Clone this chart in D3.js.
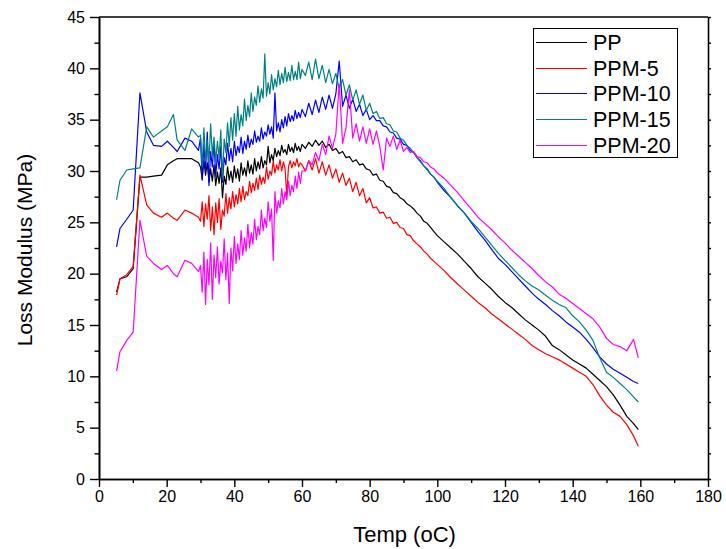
<!DOCTYPE html>
<html><head><meta charset="utf-8">
<script src="https://cdn.jsdelivr.net/npm/d3@7"></script>
<style>
html,body{margin:0;padding:0;background:#fff;}
svg{display:block;font-family:"Liberation Sans",Arial,sans-serif;}
</style></head>
<body><svg id="c" width="726" height="549"></svg>
<script>
const temps = [5.2,6.2,8.2,10.1,12.1,14.1,16.1,18.5,20.2,22.0,23.1,25.4,27.4,29.4,
30,30.5,31,31.5,32,32.5,33,33.5,34,34.5,35,35.5,36,36.5,37,37.5,38,38.5,39,39.5,
40,40.5,41,41.5,42,42.5,43,43.5,44,44.5,45,45.5,46,46.5,47,47.5,48,48.5,49,49.5,
50,50.5,51,51.5,52,52.5,53,53.5,54,54.5,55,55.5,56,56.5,57,57.5,58,58.5,59,59.5,60,
61,62,63,64,65,66,67,68,69,70,71,72,73,74,75,76,77,78,79,80,
81,82,83,84,85,86,87,88,89,90,91,92,93,94,95,96,97,98,99,100,
102,104,106,108,110,112,114,116,118,120,122,124,126,128,130,132,134,136,138,140,
142,144,146,148,150,152,154,156,158,159.4];

const pp = [18.2,19.5,19.7,20.5,29.4,29.4,29.5,29.6,30.6,31.0,31.2,31.2,31.2,30.8,
30.4,29.2,31.0,29.6,30.8,28.9,30.2,29.0,30.6,28.6,
29.9,28.8,30.3,27.4,29.5,28.7,30.4,29.1,30.0,28.9,
30.5,29.3,30.2,29.0,30.8,29.6,30.3,29.5,31.0,29.8,
30.6,29.7,31.2,30.0,30.9,30.2,31.4,30.3,31.0,30.6,
32.4,30.8,31.6,31.0,32.2,31.4,32.0,31.5,32.5,31.8,
32.1,31.6,32.6,31.9,32.3,31.8,32.7,32.0,32.4,31.9,
32.6,
32.2,32.8,32.4,33.0,32.5,32.9,32.3,32.6,32.0,32.2,
31.7,31.9,31.3,31.4,30.9,31.1,30.6,30.7,30.2,30.1,
29.6,29.7,29.1,29.0,28.5,28.4,27.9,27.8,27.4,27.2,
26.8,26.6,26.3,25.9,25.6,25.1,24.9,24.5,24.1,23.7,
23.1,22.5,21.9,21.2,20.5,19.7,19.1,18.5,17.8,17.2,
16.7,16.1,15.5,15.0,14.5,13.9,13.0,12.6,12.1,11.6,
11.2,10.8,10.2,9.6,9.0,8.2,7.2,6.1,5.4,4.8];

const ppm5 = [17.9,19.5,19.9,20.7,29.6,26.7,25.9,25.5,25.9,25.4,25.2,26.2,25.9,25.5,
25.1,27.0,24.6,26.8,25.3,27.6,24.2,26.5,23.8,26.9,
25.0,27.3,24.3,26.2,25.6,27.8,25.9,27.4,26.3,28.0,
26.5,27.7,26.8,28.3,27.0,28.5,27.2,28.0,27.6,29.0,
27.9,28.8,28.1,29.3,28.2,29.6,28.7,29.4,28.8,30.4,
29.2,30.0,29.6,31.0,29.8,30.6,30.1,31.1,30.0,30.9,
30.2,27.6,30.4,31.0,30.3,30.9,30.5,31.2,30.4,30.8,
30.6,
30.0,31.0,30.1,31.2,29.8,30.9,29.6,30.6,29.3,30.2,
28.9,29.8,28.6,29.3,28.0,28.9,27.6,28.3,26.9,27.4,
26.4,26.5,25.9,26.0,25.4,25.5,24.9,25.0,24.5,24.4,
23.8,23.7,23.2,22.9,22.6,22.2,21.9,21.5,21.2,20.9,
20.3,19.6,19.0,18.4,17.8,17.2,16.7,16.1,15.6,15.1,
14.6,14.1,13.6,13.0,12.6,12.2,11.9,11.6,11.2,10.8,
10.4,10.0,9.2,8.1,7.2,6.5,6.1,5.3,4.2,3.2];

const ppm10 = [22.6,24.4,25.3,26.2,37.6,33.8,32.5,32.4,32.9,32.3,31.9,33.2,32.9,32.0,
33.2,29.1,32.6,30.0,33.8,28.6,31.9,30.4,32.8,29.5,
31.6,30.2,32.4,28.9,31.3,30.6,32.7,31.0,32.2,30.9,
32.9,31.5,32.4,31.8,33.3,31.7,32.9,32.1,33.5,32.3,
33.1,32.6,33.9,32.8,33.4,32.9,34.2,33.1,33.8,33.4,
34.5,33.6,34.3,33.2,37.6,33.9,34.7,33.8,35.0,34.2,
35.3,34.4,35.6,34.8,35.4,34.9,35.9,35.1,35.7,35.2,
36.0,
35.3,36.6,35.5,36.9,35.7,37.2,36.0,37.4,36.1,37.5,
40.7,36.3,37.4,36.1,37.0,35.8,36.5,35.4,36.0,35.0,
35.4,34.9,34.9,34.4,34.3,33.8,33.7,33.2,33.1,32.6,
32.5,32.0,31.8,31.3,31.0,30.5,30.2,29.7,29.4,28.9,
28.1,27.4,26.6,25.9,25.0,24.1,23.3,22.4,21.5,20.9,
20.2,19.5,18.8,18.1,17.5,17.0,16.4,15.9,15.3,14.8,
14.3,13.6,12.8,11.9,11.2,10.7,10.3,9.9,9.5,9.3];

const ppm15 = [27.2,29.1,30.1,30.2,30.3,34.3,33.3,33.9,34.3,35.5,33.0,32.0,34.1,33.3,
33.5,30.4,34.2,31.0,33.0,30.8,34.6,31.5,33.3,30.9,
32.9,31.3,34.0,29.2,33.1,31.8,34.7,32.4,35.2,33.0,
35.6,33.4,36.3,34.0,35.5,34.4,37.0,34.9,36.4,35.3,
37.6,35.8,37.2,36.4,38.3,36.7,38.0,37.1,41.4,37.3,
38.6,37.5,39.4,37.9,39.0,38.2,39.8,38.4,39.5,38.6,
40.1,38.7,39.6,38.8,40.3,38.9,39.7,38.9,40.6,39.0,
39.9,
39.3,40.6,38.9,40.9,39.0,40.3,38.6,39.9,38.5,39.5,
38.0,38.9,37.4,38.4,36.9,37.9,36.5,37.4,35.9,36.6,
35.6,35.8,35.1,35.2,34.6,34.5,33.9,33.8,33.2,33.0,
32.5,32.2,31.8,31.3,30.9,30.5,30.1,29.7,29.4,29.0,
28.3,27.4,26.6,25.9,25.1,24.4,23.6,22.8,22.0,21.3,
20.6,19.9,19.3,18.8,18.4,17.9,17.4,17.0,16.7,15.9,
15.3,14.5,13.5,11.8,10.4,9.9,9.3,8.7,8.0,7.5];

const ppm20 = [10.5,12.4,13.5,14.3,25.2,21.7,21.0,20.4,20.8,20.0,19.7,21.3,21.0,20.2,
20.8,18.2,22.1,17.0,21.4,18.9,23.0,17.5,21.8,19.6,
22.6,19.0,21.2,20.1,23.4,19.4,22.0,17.1,22.5,20.3,
23.6,21.0,22.9,21.4,24.2,21.8,23.5,22.2,24.8,22.5,
24.0,22.9,25.3,23.3,24.6,23.8,26.2,24.2,25.4,24.5,
27.0,25.1,26.3,21.3,28.0,25.9,27.1,26.4,28.3,26.8,
28.0,27.2,29.0,27.6,28.6,28.0,29.5,28.3,29.9,28.8,
30.0,
30.0,31.0,30.6,31.8,31.0,32.6,31.6,33.4,32.2,33.6,
38.5,32.7,34.2,37.9,33.2,34.6,32.9,34.3,32.7,34.1,
32.6,33.9,32.4,30.1,33.2,32.4,33.4,32.1,33.0,31.9,
32.3,31.8,31.9,31.4,31.3,30.9,30.8,30.4,30.2,29.8,
29.3,28.6,27.9,27.1,26.3,25.5,24.9,24.3,23.6,23.0,
22.3,21.7,21.1,20.5,19.8,19.2,18.7,18.0,17.6,17.1,
16.6,16.1,15.6,14.8,13.7,13.1,12.9,12.5,13.6,11.8];

const seriesNames = ["PP","PPM-5","PPM-10","PPM-15","PPM-20"];
const seriesColors = ["#000000","#ff0000","#0000ff","#008080","#ff00ff"];
const seriesValues = [pp, ppm5, ppm10, ppm15, ppm20];
const xTicks = [0,20,40,60,80,100,120,140,160,180];
const xMinor = [10,30,50,70,90,110,130,150,170];
const yTicks = [0,5,10,15,20,25,30,35,40,45];
const yMinor = [2.5,7.5,12.5,17.5,22.5,27.5,32.5,37.5,42.5];

const svg = d3.select("#c");
const L = 99, R = 708, T = 17, B = 479;
const x = d3.scaleLinear().domain([0,180]).range([L,R]);
const y = d3.scaleLinear().domain([0,45]).range([B,T]);

svg.append("defs").append("clipPath").attr("id","clip")
  .append("rect").attr("x",L).attr("y",T).attr("width",R-L).attr("height",B-T);

const line = d3.line().x((d,i)=>x(temps[i])).y(d=>y(d));
const g = svg.append("g").attr("clip-path","url(#clip)");
seriesValues.forEach((vals,k)=>{
  g.append("path").datum(vals).attr("d",line)
    .attr("fill","none").attr("stroke",seriesColors[k])
    .attr("stroke-width",1.2).attr("stroke-linejoin","round");
});

// axes
const xAxis = svg.append("g").attr("transform",`translate(0,${B})`)
  .call(d3.axisBottom(x).tickValues(xTicks).tickSize(8).tickSizeOuter(0).tickPadding(4));
const yAxis = svg.append("g").attr("transform",`translate(${L},0)`)
  .call(d3.axisLeft(y).tickValues(yTicks).tickSize(9).tickSizeOuter(0).tickPadding(5));
xAxis.append("g").call(d3.axisBottom(x).tickValues(xMinor).tickSize(4).tickSizeOuter(0).tickFormat(""));
yAxis.append("g").call(d3.axisLeft(y).tickValues(yMinor).tickSize(4.5).tickSizeOuter(0).tickFormat(""));
const rAxis = svg.append("g").attr("transform",`translate(${R},0)`)
  .call(d3.axisRight(y).tickValues(yTicks.concat(yMinor)).tickSize(3).tickSizeOuter(0).tickFormat(""));
[xAxis,yAxis,rAxis].forEach(a=>{
  a.selectAll("path.domain").attr("stroke","#000").attr("stroke-width",1.6);
  a.selectAll("line").attr("stroke","#000").attr("stroke-width",1.4);
  a.selectAll("text").attr("fill","#000").style("font-size","16px")
    .style("font-family","'Liberation Sans',Arial,sans-serif");
});
svg.append("line").attr("x1",L).attr("x2",R).attr("y1",T).attr("y2",T)
  .attr("stroke","#000").attr("stroke-width",1.6);

// titles
svg.append("text").attr("x",(L+R)/2 + 1).attr("y",542).attr("text-anchor","middle")
  .style("font-size","22px").text("Temp (oC)");
svg.append("text").attr("transform",`translate(32,${(T+B)/2 + 2}) rotate(-90)`)
  .attr("text-anchor","middle").style("font-size","21px").text("Loss Modulus (MPa)");

// legend
const lg = svg.append("g");
lg.append("rect").attr("x",533.5).attr("y",28.5).attr("width",144).attr("height",129)
  .attr("fill","#fff").attr("stroke","#000").attr("stroke-width",1);
seriesNames.forEach((n,i)=>{
  const yy = Math.round(41.7 + i*25.8) + 0.5;
  lg.append("line").attr("x1",536).attr("x2",587).attr("y1",yy).attr("y2",yy)
    .attr("stroke",seriesColors[i]).attr("stroke-width",1.2);
  lg.append("text").attr("x",593).attr("y",yy+7.5).style("font-size","21.5px").text(n);
});
</script></body></html>
